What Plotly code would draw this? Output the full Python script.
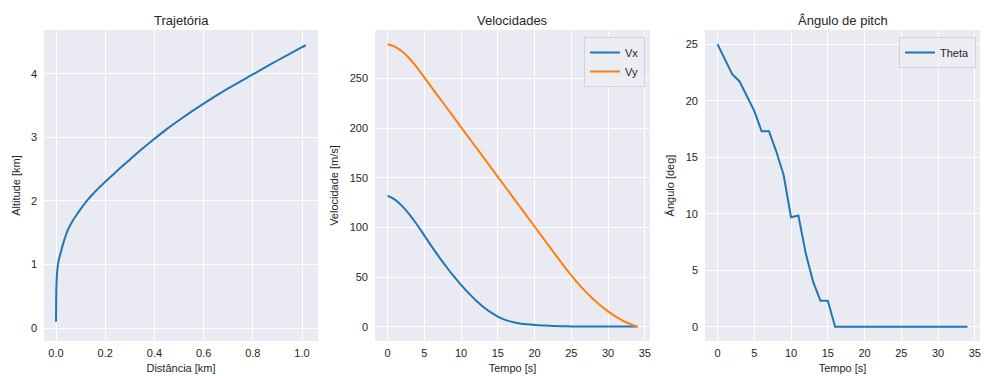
import plotly.graph_objects as go

# --- Trajectory (km) ---
dist_km = [0.0, 0.0005, 0.002, 0.005, 0.01, 0.015, 0.02, 0.03, 0.04, 0.05, 0.065,
           0.08, 0.1, 0.125, 0.15, 0.175, 0.2, 0.25, 0.3, 0.35, 0.385, 0.45, 0.5,
           0.6, 0.7, 0.8, 0.9, 1.0, 1.015]
alt_km = [0.1, 0.4, 0.7, 0.9, 1.05, 1.13, 1.2, 1.34, 1.46, 1.56, 1.67,
          1.76, 1.87, 2.0, 2.11, 2.21, 2.3, 2.48, 2.65, 2.82, 2.93, 3.13, 3.27,
          3.53, 3.77, 3.99, 4.21, 4.42, 4.45]

# --- Time history (s) ---
tempo = list(range(0, 35))
vx = [132, 128, 121.5, 113, 103, 92, 81, 70.5, 60.5, 51, 42.3, 34.2, 26.8, 20.3,
      14.8, 10.4, 7.1, 4.9, 3.5, 2.6, 2.0, 1.5, 1.1, 0.8, 0.6, 0.5, 0.45, 0.4,
      0.4, 0.4, 0.4, 0.4, 0.4, 0.4, 0.3]
vy = [284.3, 282.0, 277.0, 270.0, 261.0, 251.0, 241.0, 231.0, 221.0, 211.0,
      201.0, 191.0, 181.0, 171.0, 161.0, 151.0, 141.0, 131.0, 121.0, 111.0,
      101.0, 91.0, 81.0, 71.0, 61.2, 51.8, 43.0, 35.0, 27.8, 21.3, 15.6, 10.6,
      6.4, 2.9, 0.0]
theta = [25, 23.6, 22.35, 21.7, 20.45, 19.1, 17.3, 17.3, 15.5, 13.4, 9.7, 9.85,
         6.5, 4.0, 2.3, 2.3, 0, 0, 0, 0, 0, 0, 0, 0, 0, 0, 0, 0, 0, 0, 0, 0, 0, 0, 0]

W, H = 984, 376
BLUE, ORANGE = "#1f77b4", "#ff7f0e"
TXT = "#262626"
FONT = "Liberation Sans, Arial, sans-serif"


def px_x(p):
    return p / W


def px_y(p):
    return 1 - p / H


fig = go.Figure()
fig.add_trace(go.Scatter(x=dist_km, y=alt_km, mode="lines", name="Trajetória",
                         line=dict(color=BLUE, width=2, shape="spline", smoothing=0.6),
                         xaxis="x", yaxis="y", legend="legend"))
fig.add_trace(go.Scatter(x=tempo, y=vx, mode="lines", name="Vx",
                         line=dict(color=BLUE, width=2, shape="spline", smoothing=0.8),
                         xaxis="x2", yaxis="y2", legend="legend2"))
fig.add_trace(go.Scatter(x=tempo, y=vy, mode="lines", name="Vy",
                         line=dict(color=ORANGE, width=2, shape="spline", smoothing=0.8),
                         xaxis="x2", yaxis="y2", legend="legend2"))
fig.add_trace(go.Scatter(x=tempo, y=theta, mode="lines", name="Theta",
                         line=dict(color=BLUE, width=2), xaxis="x3", yaxis="y3",
                         legend="legend3"))

y_dom = [px_y(341), px_y(30)]
doms = [[px_x(44), px_x(318)], [px_x(375), px_x(650)], [px_x(705), px_x(980)]]

axis_common = dict(showgrid=True, gridcolor="white", gridwidth=1, zeroline=False,
                   showline=False, ticks="", tickfont=dict(size=11, color=TXT),
                   title_font=dict(size=11, color=TXT))

fig.update_layout(
    width=W, height=H, margin=dict(l=0, r=0, t=0, b=0),
    paper_bgcolor="white", plot_bgcolor="#EAEAF2",
    font=dict(family=FONT, color=TXT),
    xaxis=dict(domain=doms[0], anchor="y", range=[-0.0488, 1.065],
               tickvals=[0, 0.2, 0.4, 0.6, 0.8, 1.0], tickformat=".1f",
               title=dict(text="Distância [km]", standoff=6),
               ticklabelstandoff=4, **axis_common),
    yaxis=dict(domain=y_dom, anchor="x", range=[-0.204, 4.69],
               tickvals=[0, 1, 2, 3, 4],
               title=dict(text="Altitude [km]", standoff=8),
               ticklabelstandoff=6, **axis_common),
    xaxis2=dict(domain=doms[1], anchor="y2", range=[-1.7, 35.7],
                tickvals=list(range(0, 36, 5)),
                title=dict(text="Tempo [s]", standoff=6),
                ticklabelstandoff=4, **axis_common),
    yaxis2=dict(domain=y_dom, anchor="x2", range=[-14.2, 298.7],
                tickvals=list(range(0, 251, 50)),
                title=dict(text="Velocidade [m/s]", standoff=8),
                ticklabelstandoff=6, **axis_common),
    xaxis3=dict(domain=doms[2], anchor="y3", range=[-1.7, 35.7],
                tickvals=list(range(0, 36, 5)),
                title=dict(text="Tempo [s]", standoff=6),
                ticklabelstandoff=4, **axis_common),
    yaxis3=dict(domain=y_dom, anchor="x3", range=[-1.25, 26.25],
                tickvals=list(range(0, 26, 5)),
                title=dict(text="Ângulo [deg]", standoff=8),
                ticklabelstandoff=6, **axis_common),
)

legend_style = dict(bgcolor="rgba(236,236,243,0.85)", bordercolor="#d2d2da",
                    borderwidth=1, font=dict(size=11, color=TXT),
                    yanchor="top", y=px_y(37), tracegroupgap=0)
fig.update_layout(
    legend=dict(x=px_x(48), xanchor="left", **legend_style),
    legend2=dict(x=px_x(645), xanchor="right", **legend_style),
    legend3=dict(x=px_x(976), xanchor="right", **legend_style),
)

titles = ["Trajetória", "Velocidades", "Ângulo de pitch"]
for dom, text in zip(doms, titles):
    fig.add_annotation(text=text, x=(dom[0] + dom[1]) / 2, y=px_y(20),
                       xref="paper", yref="paper", showarrow=False,
                       xanchor="center", yanchor="middle",
                       font=dict(size=13, color=TXT))

fig.write_html("out.html")
